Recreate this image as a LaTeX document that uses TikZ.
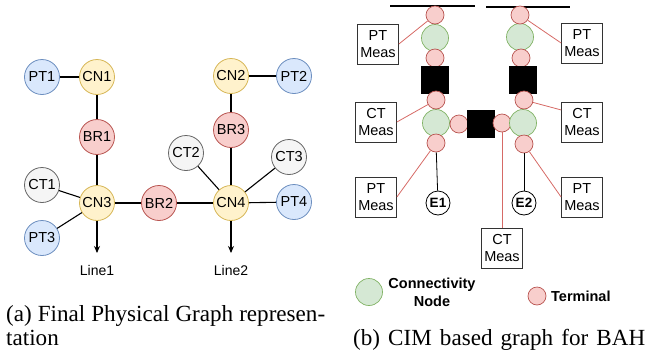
\documentclass[tikz,border=0pt]{standalone}
\usepackage{fontspec}
\setmainfont{Liberation Serif}
\setsansfont{Liberation Sans}
\usetikzlibrary{arrows.meta}
\definecolor{ptfill}{HTML}{DAE8FC}\definecolor{ptdraw}{HTML}{6C8EBF}
\definecolor{cnfill}{HTML}{FFF2CC}\definecolor{cndraw}{HTML}{D6B656}
\definecolor{brfill}{HTML}{F8CECC}\definecolor{brdraw}{HTML}{B85450}
\definecolor{ctfill}{HTML}{F5F5F5}\definecolor{ctdraw}{HTML}{666666}
\definecolor{gnfill}{HTML}{D5E8D4}\definecolor{gndraw}{HTML}{82B366}
\definecolor{redline}{HTML}{D66A66}
\tikzset{
  gnode/.style={circle,minimum size=35pt,inner sep=0pt,line width=0.8pt,
    font=\sffamily\fontsize{14.5}{16}\selectfont},
  ptn/.style={gnode,fill=ptfill,draw=ptdraw},
  cnn/.style={gnode,fill=cnfill,draw=cndraw},
  brn/.style={gnode,fill=brfill,draw=brdraw},
  ctn/.style={gnode,fill=ctfill,draw=ctdraw},
  edge/.style={line width=1.1pt,black},
  term/.style={circle,minimum size=18pt,inner sep=0pt,fill=brfill,draw=brdraw,line width=0.7pt},
  conn/.style={circle,minimum size=27pt,inner sep=0pt,fill=gnfill,draw=gndraw,line width=0.7pt},
  brk/.style={rectangle,minimum size=27pt,inner sep=0pt,fill=black,draw=black},
  meas/.style={rectangle,draw=black!80,line width=0.8pt,minimum width=41pt,minimum height=40pt,
    inner sep=0pt,align=center,font=\sffamily\fontsize{14.5}{17}\selectfont},
  earth/.style={circle,minimum size=24pt,inner sep=0pt,draw=black,fill=white,line width=0.8pt,
    font=\sffamily\bfseries\fontsize{13.5}{15}\selectfont},
  rl/.style={redline,line width=0.8pt},
  bl/.style={black,line width=0.8pt},
  legtext/.style={font=\sffamily\bfseries\fontsize{14.5}{18}\selectfont,align=center},
  captext/.style={font=\fontsize{23.1}{26}\selectfont,inner sep=0pt}
}
\begin{document}
\begin{tikzpicture}[x=1pt,y=-1pt]
\useasboundingbox (0,0) rectangle (651,357);
% (a)
\node[ptn] (pt1) at (42,77) {PT1};
\node[cnn] (cn1) at (97,77) {CN1};
\node[cnn] (cn2) at (231,76) {CN2};
\node[ptn] (pt2) at (294,76) {PT2};
\node[brn] (br1) at (97,137) {BR1};
\node[brn] (br3) at (231,130) {BR3};
\node[ctn] (ct2) at (186,153) {CT2};
\node[ctn] (ct3) at (289,157) {CT3};
\node[ctn] (ct1) at (42,185) {CT1};
\node[cnn] (cn3) at (97,203) {CN3};
\node[brn] (br2) at (159,203) {BR2};
\node[cnn] (cn4) at (231,203) {CN4};
\node[ptn] (pt4) at (294,202) {PT4};
\node[ptn] (pt3) at (42,238) {PT3};
\coordinate (l1) at (97,253);
\coordinate (l2) at (231,253);
\node[font=\sffamily\fontsize{14}{16}\selectfont] (line1) at (97,270) {Line1};
\node[font=\sffamily\fontsize{14}{16}\selectfont] (line2) at (231,270) {Line2};
\draw[edge] (pt1) -- (cn1);
\draw[edge] (cn2) -- (pt2);
\draw[edge] (cn1) -- (br1);
\draw[edge] (br1) -- (cn3);
\draw[edge] (cn2) -- (br3);
\draw[edge] (br3) -- (cn4);
\draw[edge] (ct1) -- (cn3);
\draw[edge] (pt3) -- (cn3);
\draw[edge] (cn3) -- (br2);
\draw[edge] (br2) -- (cn4);
\draw[edge] (ct2) -- (cn4);
\draw[edge] (ct3) -- (cn4);
\draw[edge] (cn4) -- (pt4);
\draw[edge,-{Stealth[length=7pt,width=6pt]}] (cn3) -- (l1);
\draw[edge,-{Stealth[length=7pt,width=6pt]}] (cn4) -- (l2);
% (b)
\coordinate (bl1a) at (390,6); \coordinate (bl1b) at (475,6);
\coordinate (bl2a) at (486,7); \coordinate (bl2b) at (570,7);
\draw[black,line width=2.6pt] (bl1a) -- (bl1b);
\draw[black,line width=2.6pt] (bl2a) -- (bl2b);
\node[conn] (gl1) at (435,38) {};
\node[term] (tl1) at (435,15) {};
\node[term] (tl2) at (435,58) {};
\node[brk] (sql) at (435,80) {};
\node[conn] (gl2) at (436,123) {};
\node[term] (tl3) at (436,100) {};
\node[term] (tl4) at (436,143) {};
\node[term] (tm1) at (459,124) {};
\node[brk] (sqm) at (481,124) {};
\node[term] (tm2) at (502,123) {};
\node[conn] (gr1) at (520,37) {};
\node[term] (tr1) at (520,15) {};
\node[term] (tr2) at (521,58) {};
\node[brk] (sqr) at (523,80) {};
\node[conn] (gr2) at (523,123) {};
\node[term] (tr3) at (524,100) {};
\node[term] (tr4) at (524,144) {};
\node[meas] (ptl1) at (378,44) {PT\\Meas};
\node[meas] (ctl) at (376,122) {CT\\Meas};
\node[meas] (ptl2) at (376,197) {PT\\Meas};
\node[meas] (ptr1) at (582,43) {PT\\Meas};
\node[meas] (ctr) at (582,122) {CT\\Meas};
\node[meas] (ptr2) at (582,197) {PT\\Meas};
\node[meas] (ctb) at (502,248) {CT\\Meas};
\node[earth] (e1) at (438,203) {E1};
\node[earth] (e2) at (524,203) {E2};
\draw[rl] (tl1) -- (ptl1.east);
\draw[rl] (tl3) -- (ctl.east);
\draw[rl] (tl4) -- (ptl2.east);
\draw[rl] (tr1) -- (ptr1.west);
\draw[rl] (tr3) -- (ctr.150);
\draw[rl] (tr4) -- (ptr2.west);
\draw[rl] (tm2) -- (ctb.north);
\draw[bl] (tl4) -- (e1);
\draw[bl] (tr4) -- (e2);
% legend
\node[conn] (leg1) at (369,292) {};
\node[legtext] (leg1t) at (432,292) {Connectivity\\Node};
\node[term] (leg2) at (537,296) {};
\node[legtext,anchor=west,inner sep=0pt] (leg2t) at (551,296) {Terminal};
% captions
\node[captext,anchor=base west] (capa1) at (6,321) {\makebox[319pt][s]{(a) Final Physical Graph represen-}};
\node[captext,anchor=base west] (capa2) at (6,345) {tation};
\node[captext,anchor=base west] (capb) at (353,345) {\makebox[292pt][s]{(b) CIM based graph for BAH}};
\end{tikzpicture}
\end{document}
